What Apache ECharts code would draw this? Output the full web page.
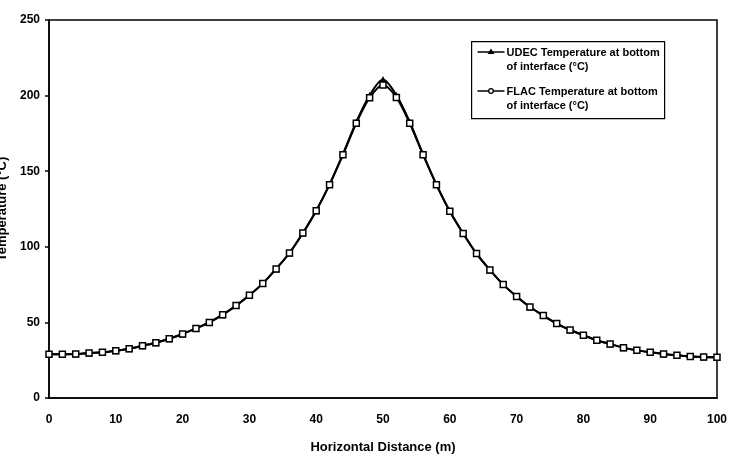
<!DOCTYPE html>
<html>
<head>
<meta charset="utf-8">
<script src="https://cdn.jsdelivr.net/npm/echarts@6/dist/echarts.min.js"></script>
<style>html,body{margin:0;padding:0;background:#fff;}#c{width:740px;height:457px;}</style>
</head>
<body>
<div id="c"></div>
<script>
const distance = [0,2,4,6,8,10,12,14,16,18,20,22,24,26,28,30,32,34,36,38,40,42,44,46,48,50,52,54,56,58,60,62,64,66,68,70,72,74,76,78,80,82,84,86,88,90,92,94,96,98,100];
const flacTemp = [29.0,29.0,29.1,29.8,30.2,31.3,32.6,34.6,36.6,39.2,42.3,46.0,50.0,55.1,61.1,67.9,75.8,85.4,95.9,109.1,123.9,141.1,160.8,181.7,198.6,207.0,198.8,181.7,160.8,141.0,123.5,108.8,95.5,84.7,75.0,67.2,60.2,54.5,49.2,45.0,41.5,38.2,35.7,33.3,31.5,30.2,29.1,28.2,27.5,27.1,26.9];
const udecTemp = [29.0,29.0,29.1,29.8,30.2,31.3,32.6,34.6,36.6,39.2,42.3,46.0,50.0,55.1,61.1,67.9,75.8,85.4,95.9,109.1,123.9,141.3,161.3,182.6,200.2,210.6,200.3,182.6,161.3,141.2,123.5,108.8,95.5,84.7,75.0,67.2,60.2,54.5,49.2,45.0,41.5,38.2,35.7,33.3,31.5,30.2,29.1,28.2,27.5,27.1,26.9];
const seriesNames = ['UDEC Temperature at bottom\nof interface (°C)', 'FLAC Temperature at bottom\nof interface (°C)'];
const xTitle = 'Horizontal Distance (m)';
const yTitle = 'Temperature (°C)';

const font = '"Liberation Sans", Arial, sans-serif';
const chart = echarts.init(document.getElementById('c'), null, {renderer: 'canvas'});

function legendItem(y, name, symbolEl) {
  return {
    type: 'group', left: 475, top: y, z: 100,
    children: [
      {type: 'line', z: 100, shape: {x1: 0, y1: 6, x2: 27, y2: 6}, style: {stroke: '#000', lineWidth: 1.5}},
      Object.assign(symbolEl, {z: 101}),
      {type: 'text', z: 100, x: 29, y: 0, style: {text: name, font: 'bold 11px ' + font, fill: '#000', lineHeight: 14}}
    ]
  };
}

chart.setOption({
  animation: false,
  backgroundColor: '#fff',
  grid: {left: 49, right: 23, top: 20, bottom: 59, containLabel: false, outerBoundsMode: 'none', show: true, borderColor: '#000', borderWidth: 1.5, backgroundColor: 'transparent'},
  xAxis: {
    type: 'value', min: 0, max: 100, interval: 10,
    name: xTitle, nameLocation: 'middle', nameGap: 43, nameMoveOverlap: false,
    nameTextStyle: {fontFamily: font, fontWeight: 'bold', fontSize: 13, color: '#000'},
    axisLine: {show: true, lineStyle: {color: '#000', width: 1.5}},
    axisTick: {show: false},
    axisLabel: {fontFamily: font, fontWeight: 'bold', fontSize: 12, color: '#000', margin: 16},
    splitLine: {show: false}
  },
  yAxis: {
    type: 'value', min: 0, max: 250, interval: 50,
    name: yTitle, nameLocation: 'middle', nameGap: 40, nameRotate: 90, nameMoveOverlap: false,
    nameTextStyle: {fontFamily: font, fontWeight: 'bold', fontSize: 13, color: '#000'},
    axisLine: {show: true, lineStyle: {color: '#000', width: 1.5}},
    axisTick: {show: true, inside: false, length: 4, lineStyle: {color: '#000', width: 1.5}},
    axisLabel: {fontFamily: font, fontWeight: 'bold', fontSize: 12, color: '#000', margin: 9},
    splitLine: {show: false}
  },
  series: [
    {
      name: seriesNames[0], type: 'line', z: 2,
      data: distance.map((d, i) => [d, udecTemp[i]]),
      smooth: 0.3, symbol: 'triangle', symbolSize: 7, showSymbol: true,
      lineStyle: {color: '#000', width: 2},
      itemStyle: {color: '#000', borderColor: '#000', borderWidth: 0}
    },
    {
      name: seriesNames[1], type: 'line', z: 3,
      data: distance.map((d, i) => [d, flacTemp[i]]),
      smooth: 0.3, symbol: 'rect', symbolSize: 6, showSymbol: true,
      lineStyle: {color: '#000', width: 2},
      itemStyle: {color: '#fff', borderColor: '#000', borderWidth: 1.5}
    }
  ],
  graphic: [
    {type: 'rect', left: 471, top: 41, z: 90, shape: {width: 193, height: 77}, style: {fill: '#fff', stroke: '#000', lineWidth: 1.2}},
    legendItem(46, seriesNames[0], {type: 'polygon', shape: {points: [[13.5, 2.5], [17, 8], [10, 8]]}, style: {fill: '#000'}}),
    legendItem(85, seriesNames[1], {type: 'circle', shape: {cx: 13.5, cy: 6, r: 2.3}, style: {fill: '#fff', stroke: '#000', lineWidth: 1.3}})
  ]
});
</script>
</body>
</html>
